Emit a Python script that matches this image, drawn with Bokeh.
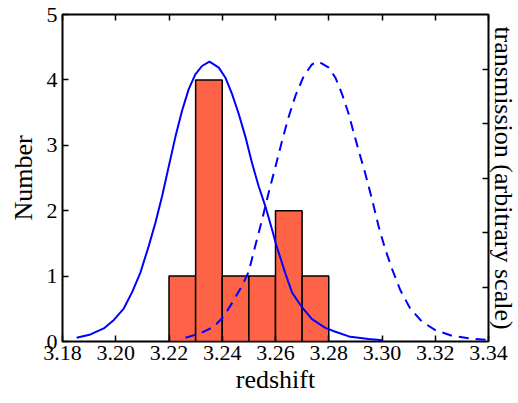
from bokeh.plotting import figure
from bokeh.models import Range1d, LinearAxis, FixedTicker, PrintfTickFormatter
from bokeh.embed import file_html
from bokeh.resources import INLINE

# Histogram (bin edges and counts)
bin_left = [3.22, 3.23, 3.24, 3.25, 3.26, 3.27]
bin_right = [3.23, 3.24, 3.25, 3.26, 3.27, 3.28]
counts = [1, 4, 1, 1, 2, 1]

# Filter transmission curves (arbitrary scale, right axis)
filt1_z = [3.1853, 3.1905, 3.1955, 3.1993, 3.2030, 3.2062, 3.2093, 3.2124, 3.2149, 3.2174,
           3.2199, 3.2224, 3.2249, 3.2274, 3.2299, 3.2324, 3.2352, 3.2387, 3.2412, 3.2437,
           3.2462, 3.2487, 3.2512, 3.2537, 3.2562, 3.2587, 3.2602, 3.2637, 3.2662, 3.2700,
           3.2737, 3.2787, 3.2825, 3.2881, 3.2950, 3.3000]
filt1_t = [0.014, 0.026, 0.048, 0.079, 0.121, 0.182, 0.254, 0.351, 0.436, 0.533,
           0.642, 0.751, 0.847, 0.926, 0.980, 1.011, 1.027, 1.005, 0.968, 0.908,
           0.835, 0.751, 0.654, 0.569, 0.496, 0.411, 0.357, 0.250, 0.180, 0.125,
           0.082, 0.050, 0.036, 0.017, 0.009, 0.005]

filt2_z = [3.2262, 3.2318, 3.2368, 3.2405, 3.2443, 3.2475, 3.2499, 3.2524, 3.2550, 3.2574,
           3.2600, 3.2625, 3.2649, 3.2675, 3.2706, 3.2737, 3.2762, 3.2800, 3.2825, 3.2850,
           3.2875, 3.2893, 3.2912, 3.2937, 3.2963, 3.2987, 3.3012, 3.3038, 3.3069, 3.3106,
           3.3150, 3.3200, 3.3263, 3.3338, 3.3394]
filt2_t = [0.014, 0.030, 0.054, 0.091, 0.151, 0.206, 0.255, 0.351, 0.448, 0.545,
           0.642, 0.738, 0.823, 0.902, 0.974, 1.017, 1.027, 1.005, 0.968, 0.908,
           0.835, 0.769, 0.702, 0.617, 0.520, 0.424, 0.339, 0.266, 0.188, 0.121,
           0.073, 0.042, 0.021, 0.010, 0.006]

x_ticks = [3.18, 3.20, 3.22, 3.24, 3.26, 3.28, 3.30, 3.32, 3.34]
y_ticks = [0, 1, 2, 3, 4, 5]
t_ticks = [0.2, 0.4, 0.6, 0.8, 1.0]

FONT = "Liberation Serif"

p = figure(frame_width=426, frame_height=327, output_backend="svg", toolbar_location=None,
           x_range=Range1d(3.18, 3.34), y_range=Range1d(0, 5),
           min_border_left=62, min_border_right=30, min_border_top=14, min_border_bottom=62)
p.extra_y_ranges = {"trans": Range1d(0, 1.2)}
p.xgrid.visible = False
p.ygrid.visible = False
p.outline_line_color = "black"
p.outline_line_width = 2
p.background_fill_color = "white"
p.border_fill_color = "white"

def style_axis(ax, ticks, show_labels=True):
    ax.axis_line_color = None
    ax.major_tick_in = 6
    ax.major_tick_out = 0
    ax.major_tick_line_width = 1.5
    ax.major_tick_line_color = "black"
    ax.minor_tick_line_color = None
    ax.major_label_text_font = FONT
    ax.major_label_text_font_size = "22px"
    ax.major_label_text_color = "black"
    ax.axis_label_text_font = FONT
    ax.axis_label_text_font_size = "26px"
    ax.axis_label_text_font_style = "normal"
    ax.axis_label_text_color = "black"
    if not show_labels:
        ax.major_label_overrides = {t: "" for t in ticks}
        ax.major_label_standoff = 0

xa = p.xaxis[0]
xa.ticker = FixedTicker(ticks=x_ticks)
xa.formatter = PrintfTickFormatter(format="%.2f")
xa.axis_label = "redshift"
style_axis(xa, x_ticks)
xa.major_label_standoff = 4
xa.axis_label_standoff = 2

ya = p.yaxis[0]
ya.ticker = FixedTicker(ticks=y_ticks)
ya.axis_label = "Number"
style_axis(ya, y_ticks)
ya.major_label_standoff = 5
ya.axis_label_standoff = 6

top = LinearAxis(ticker=FixedTicker(ticks=x_ticks))
style_axis(top, x_ticks, show_labels=False)
p.add_layout(top, "above")

right = LinearAxis(y_range_name="trans", ticker=FixedTicker(ticks=t_ticks),
                   axis_label="transmission (arbitrary scale)")
style_axis(right, t_ticks, show_labels=False)
right.axis_label_standoff = 0
p.add_layout(right, "right")

p.quad(left=bin_left, right=bin_right, bottom=0, top=counts,
       fill_color="#FF6347", line_color="black", line_width=1.5)

p.line(filt1_z, filt1_t, y_range_name="trans", line_color="blue", line_width=2,
       line_join="round")
p.line(filt2_z, filt2_t, y_range_name="trans", line_color="blue", line_width=2,
       line_join="round", line_dash="10 7")

open("out.html", "w").write(file_html(p, INLINE))
